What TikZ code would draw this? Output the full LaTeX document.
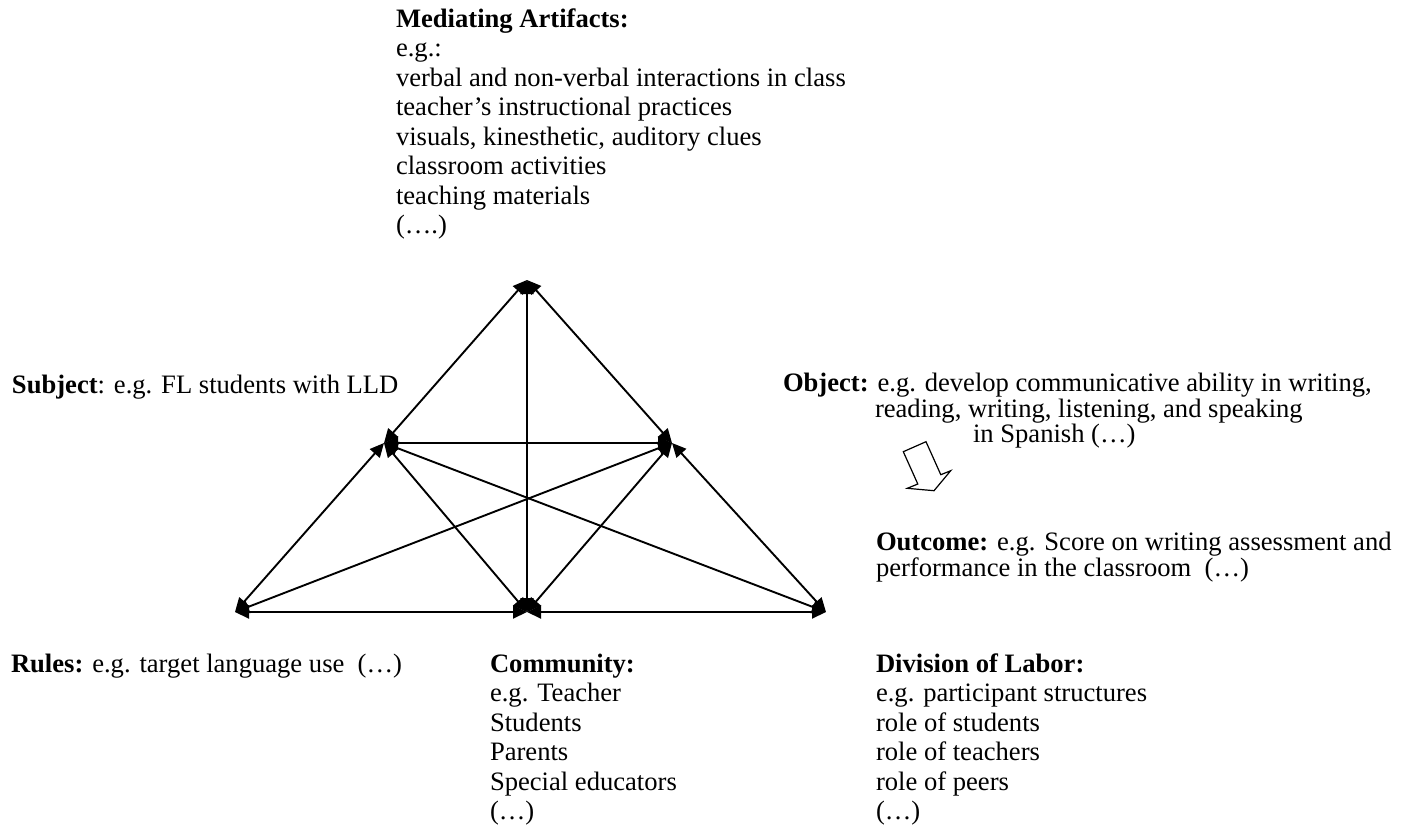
\documentclass[tikz,border=0pt]{standalone}
\usepackage{fontspec}
\setmainfont{Liberation Serif}
\usetikzlibrary{arrows.meta}
\begin{document}
\begin{tikzpicture}[x=1pt,y=-1pt,
  conn/.style={line width=1.9pt, {Triangle[length=14pt,width=13pt]}-{Triangle[length=14pt,width=13pt]}},
  lbl/.style={inner sep=0pt, outer sep=0pt, anchor=base west, font=\fontsize{26.6}{29.5}\selectfont},
  blk/.style={inner sep=0pt, outer sep=0pt, anchor=north west, align=left, font=\fontsize{26.6}{29.5}\selectfont},
  blks/.style={inner sep=0pt, outer sep=0pt, anchor=north west, align=left, font=\fontsize{26.6}{26}\selectfont},
  hollow/.style={draw, line width=1.2pt, fill=white, line join=miter}]
\useasboundingbox (0,0) rectangle (1406,836);
\def\fs{\rule{0pt}{21pt}}
% vertices
\coordinate (T)  at (527,280);
\coordinate (L)  at (384,443);
\coordinate (R)  at (672,443);
\coordinate (BL) at (235,612);
\coordinate (BM) at (527,612);
\coordinate (BR) at (826,612);
% connectors
\draw[conn] (L) -- (T);
\draw[conn] (R) -- (T);
\draw[conn] (BM) -- (T);
\draw[conn] (L) -- (R);
\draw[conn] (BL) -- (L);
\draw[conn] (BM) -- (L);
\draw[conn] (BR) -- (L);
\draw[conn] (BL) -- (R);
\draw[conn] (BM) -- (R);
\draw[conn] (BR) -- (R);
\draw[conn] (BL) -- (BM);
\draw[conn] (BM) -- (BR);
% texts
\node[blk] (med) at (396,6) {\fs\textbf{Mediating Artifacts:}\\ e.g.:\\ verbal and non-verbal interactions in class\\ teacher’s instructional practices\\ visuals, kinesthetic, auditory clues\\ classroom activities\\ teaching materials\\ (….)};
\node[lbl] (subj) at (12,393) {\textbf{Subject}: e.g. FL students with LLD};
\node[lbl] (obj1) at (783,391) {\textbf{Object:} e.g. develop communicative ability in writing,};
\node[lbl] (obj2) at (875,417) {reading, writing, listening, and speaking};
\node[lbl] (obj3) at (973,442) {in Spanish (…)};
\node[blks] (outc) at (876,529) {\fs\textbf{Outcome:} e.g. Score on writing assessment and\\ performance in the classroom\ \ (…)};
\node[lbl] (rules) at (11,672) {\textbf{Rules:} e.g. target language use\ \ (…)};
\node[blk] (comm) at (490,651) {\fs\textbf{Community:}\\ e.g. Teacher\\ Students\\ Parents\\ Special educators\\ (…)};
\node[blk] (div) at (876,651) {\fs\textbf{Division of Labor:}\\ e.g. participant structures\\ role of students\\ role of teachers\\ role of peers\\ (…)};
% hollow block arrow Object -> Outcome
\draw[hollow] (903.3,451.7) -- (926,441.7) -- (940.8,474.7) -- (950.7,470.7) -- (934,490.7) -- (907.3,488.3) -- (917.8,484.0) -- cycle;
\end{tikzpicture}
\end{document}
